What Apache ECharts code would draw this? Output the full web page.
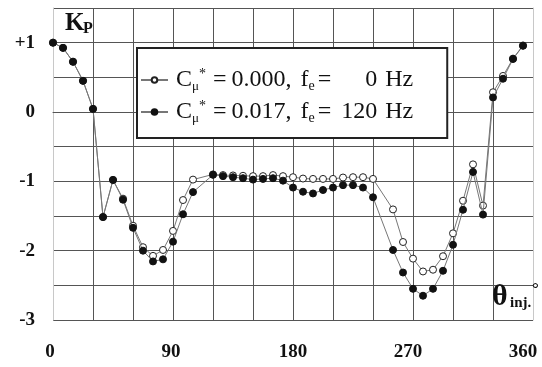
<!DOCTYPE html>
<html>
<head>
<meta charset="utf-8">
<script src="https://cdn.jsdelivr.net/npm/echarts@6/dist/echarts.min.js"></script>
<style>
  html, body { margin: 0; padding: 0; background: #fff; }
  #chart { width: 542px; height: 367px; }
</style>
</head>
<body>
<div id="chart"></div>
<script>
// injection angle (deg) - no points at 112.5 and 247.5
var angles = [0, 7.5, 15, 22.5, 30, 37.5, 45, 52.5, 60, 67.5, 75, 82.5, 90, 97.5, 105,
  120, 127.5, 135, 142.5, 150, 157.5, 165, 172.5, 180, 187.5, 195, 202.5, 210, 217.5, 225, 232.5, 240,
  255, 262.5, 270, 277.5, 285, 292.5, 300, 307.5, 315, 322.5, 330, 337.5, 345, 352.5];

// Kp, Cmu* = 0.000, fe = 0 Hz (open circles)
var kp0 = [1.0, 0.925, 0.725, 0.45, 0.045, -1.515, -0.98, -1.25, -1.64, -1.95, -2.075, -1.99, -1.715, -1.27, -0.975,
  -0.9, -0.91, -0.915, -0.92, -0.925, -0.925, -0.91, -0.925, -0.94, -0.96, -0.965, -0.965, -0.965, -0.945, -0.94, -0.94, -0.965,
  -1.405, -1.875, -2.115, -2.3, -2.275, -2.08, -1.75, -1.28, -0.755, -1.35, 0.285, 0.52, 0.77, 0.96];

// Kp, Cmu* = 0.017, fe = 120 Hz (filled circles)
var kp120 = [1.0, 0.925, 0.725, 0.45, 0.045, -1.515, -0.98, -1.265, -1.67, -2.0, -2.155, -2.125, -1.87, -1.475, -1.155,
  -0.906, -0.925, -0.94, -0.955, -0.975, -0.965, -0.955, -0.99, -1.09, -1.15, -1.175, -1.125, -1.09, -1.055, -1.055, -1.09, -1.23,
  -1.99, -2.315, -2.55, -2.65, -2.55, -2.29, -1.915, -1.41, -0.865, -1.48, 0.21, 0.48, 0.765, 0.955];

var xLabels = [0, 90, 180, 270, 360];
var yLabels = [1, 0, -1, -2, -3];
var cmu = ['0.000', '0.017'];
var freq = ['0', '120'];
var names = ['fe0', 'fe120'];

function pairs(vals) {
  return angles.map(function (a, i) { return [a, vals[i]]; });
}

// two spaces = one digit in a Times-like font, so the Hz values line up on the right
function padFreq(s) {
  var out = s;
  for (var k = s.length; k < 3; k++) out = '  ' + out;
  return out;
}

var serif = 'Liberation Serif';
var chart = echarts.init(document.getElementById('chart'));

function label(text, left, top, size) {
  return {
    type: 'text', left: left, top: top, z: 10,
    style: { text: text, fill: '#111', font: 'bold ' + size + 'px "' + serif + '"' }
  };
}

chart.setOption({
  animation: false,
  backgroundColor: '#fff',
  grid: { left: 53, right: 9, top: 8, bottom: 47 },
  xAxis: {
    type: 'value', min: 0, max: 360, interval: 30,
    axisLine: { show: true, lineStyle: { color: '#555', width: 1 } },
    axisTick: { show: false },
    axisLabel: {
      margin: 23, color: '#111', fontFamily: serif, fontSize: 19, fontWeight: 'bold',
      formatter: function (v) {
        return xLabels.indexOf(v) >= 0 ? '{l' + v + '|' + v + '}' : '';
      },
      rich: {
        l0: { padding: [0, 6, 0, 0] },
        l90: { padding: [0, 4, 0, 0] },
        l180: { padding: [0, 0, 0, 0] },
        l270: { padding: [0, 10, 0, 0] },
        l360: { padding: [0, 20, 0, 0] }
      }
    },
    splitLine: { show: true, showMinLine: false, showMaxLine: false, lineStyle: { color: '#555', width: 1 } }
  },
  yAxis: [{
    type: 'value', min: -3, max: 1.5, interval: 0.5,
    axisLine: { show: true, lineStyle: { color: '#c8c8c8', width: 1 } },
    axisTick: { show: false },
    axisLabel: {
      margin: 18, color: '#111', fontFamily: serif, fontSize: 19, fontWeight: 'bold',
      formatter: function (v) {
        if (yLabels.indexOf(v) < 0) return '';
        return v > 0 ? '+' + v : String(v);
      }
    },
    splitLine: { show: true, lineStyle: { color: '#555', width: 1 } }
  }, {
    type: 'value', min: -3, max: 1.5, interval: 0.5, position: 'right',
    axisLine: { show: true, lineStyle: { color: '#c8c8c8', width: 1 } },
    axisTick: { show: false }, axisLabel: { show: false }, splitLine: { show: false }
  }],
  legend: {
    left: 137, top: 48, orient: 'vertical',
    selectedMode: false,
    data: names,
    backgroundColor: '#fff',
    borderColor: '#222', borderWidth: 2,
    padding: [19, 34, 13, 3],
    itemGap: 6, itemWidth: 27, itemHeight: 7,
    formatter: function (name) {
      var i = names.indexOf(name);
      return '{c|C}{m|\u03bc}{s|*}{eq|=}{n|' + cmu[i] + ',}{f|f}{e|e}{eq2|=}{v|' + padFreq(freq[i]) + '}{hz|Hz}';
    },
    textStyle: {
      fontFamily: serif, fontSize: 24, color: '#111', lineHeight: 26,
      rich: {
        c: { fontSize: 24, lineHeight: 26, padding: [0, 0, 0, 3] },
        m: { fontSize: 13, lineHeight: 13, verticalAlign: 'bottom' },
        s: { fontSize: 14, lineHeight: 14, verticalAlign: 'top' },
        eq: { fontSize: 24, lineHeight: 26, padding: [0, 0, 0, 7] },
        n: { fontSize: 24, lineHeight: 26, padding: [0, 0, 0, 5] },
        f: { fontSize: 24, lineHeight: 26, padding: [0, 0, 0, 9] },
        e: { fontSize: 14, lineHeight: 14, verticalAlign: 'bottom' },
        eq2: { fontSize: 24, lineHeight: 26, padding: [0, 0, 0, 3] },
        v: { fontSize: 24, lineHeight: 26, padding: [0, 0, 0, 10] },
        hz: { fontSize: 24, lineHeight: 26, padding: [0, 0, 0, 8] }
      }
    }
  },
  graphic: [
    label('K', 65, 11, 25),
    label('P', 83, 21, 16),
    label('\u03b8', 492, 282, 30),
    label('inj.', 510, 296, 15),
    label('\u00b0', 532, 281, 17)
  ],
  series: [{
    name: names[0], type: 'line',
    data: pairs(kp0),
    symbol: 'circle', symbolSize: 7,
    lineStyle: { color: '#777', width: 1 },
    itemStyle: { color: '#fff', borderColor: '#222', borderWidth: 1 },
    z: 2
  }, {
    name: names[1], type: 'line',
    data: pairs(kp120),
    symbol: 'circle', symbolSize: 7,
    lineStyle: { color: '#777', width: 1 },
    itemStyle: { color: '#111', borderColor: '#111', borderWidth: 1 },
    z: 3
  }]
});
</script>
</body>
</html>
